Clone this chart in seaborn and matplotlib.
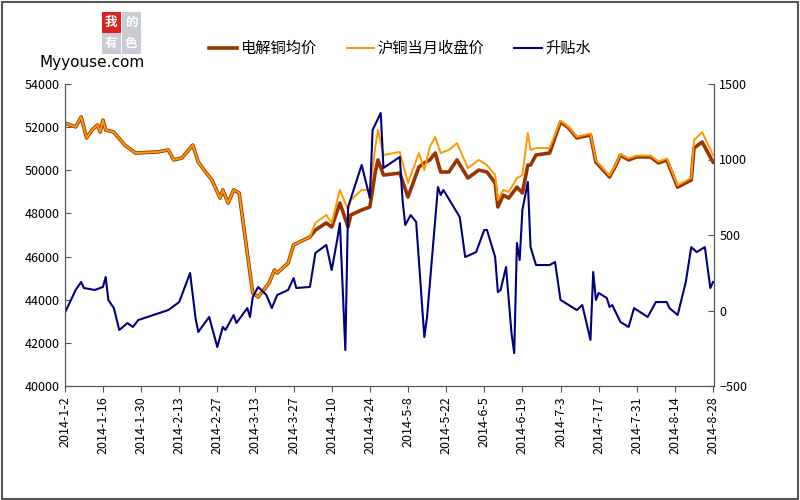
import pandas as pd
import numpy as np
import matplotlib
matplotlib.use('Agg')
import matplotlib.pyplot as plt
import matplotlib.dates as mdates
from matplotlib.patches import Rectangle
import seaborn as sns

plt.rcParams['font.family'] = ['Noto Sans CJK SC', 'DejaVu Sans']

start = pd.Timestamp('2014-01-02')

# 价格序列：日期偏移（天）、电解铜均价、沪铜当月收盘价
price_days = [0, 4, 6, 8, 10, 12, 13, 14, 15, 18, 22, 26, 34, 38, 40, 43, 47, 49, 52, 54,
              57, 58, 60, 62, 64, 69, 71, 75, 77, 78, 82, 84, 90, 92, 96, 98, 101, 104, 105, 109,
              112, 114, 115, 117, 123, 126, 130, 132, 134, 136, 138, 141, 144, 148, 152, 155, 158, 159, 161, 163,
              166, 168, 170, 171, 173, 178, 182, 185, 188, 193, 195, 200, 202, 204, 207, 210, 215, 218, 221, 225,
              230, 231, 234, 238]
copper_avg = [52190, 52010, 52470, 51500, 51870, 52100, 51770, 52330, 51870, 51770, 51170, 50800, 50850, 50940, 50480, 50570, 51170, 50380, 49870, 49550,
              48710, 49090, 48480, 49090, 48950, 44310, 44130, 44770, 45380, 45240, 45700, 46540, 46910, 47230, 47560, 47370, 48480, 47370, 47930, 48160,
              48300, 49920, 50480, 49780, 49870, 48760, 50150, 50340, 50480, 50800, 49920, 49920, 50480, 49640, 50010, 49920, 49410, 48300, 48850, 48710,
              49220, 48950, 50240, 50240, 50710, 50800, 52240, 51960, 51500, 51640, 50380, 49690, 50150, 50710, 50480, 50620, 50620, 50340, 50480, 49220,
              49550, 51030, 51310, 50380]
shfe_close = [52190, 52010, 52470, 51500, 51870, 52100, 51770, 52330, 51870, 51770, 51170, 50800, 50850, 50940, 50480, 50570, 51170, 50380, 49870, 49550,
              48710, 49090, 48480, 49090, 48950, 44310, 44130, 44770, 45380, 45240, 45700, 46540, 46910, 47560, 47930, 47560, 49090, 48160, 48620, 49090,
              49090, 51080, 51870, 50710, 50850, 49410, 50800, 50010, 51080, 51540, 50800, 50940, 51260, 50100, 50480, 50240, 49780, 48620, 49090, 49000,
              49640, 49780, 51730, 50940, 51030, 51030, 52300, 52000, 51550, 51700, 50450, 49750, 50200, 50750, 50550, 50680, 50680, 50400, 50550, 49300,
              49650, 51400, 51770, 50710]

# 升贴水
spread_days = [0, 4, 6, 7, 11, 14, 15, 16, 18, 20, 23, 25, 27, 38, 42, 46, 48, 49, 53, 56,
               58, 59, 62, 63, 67, 68, 69, 71, 74, 76, 78, 82, 84, 85, 90, 92, 96, 98, 100, 101,
               103, 104, 109, 112, 113, 116, 117, 123, 124, 125, 127, 129, 132, 133, 137, 138, 139, 145, 147, 151,
               154, 155, 158, 159, 160, 162, 164, 165, 166, 167, 168, 170, 171, 173, 178, 180, 182, 188, 190, 193,
               194, 195, 196, 199, 200, 201, 204, 207, 209, 214, 217, 221, 222, 225, 228, 230, 232, 235, 237, 238]
spread = [-17, 136, 189, 149, 136, 156, 222, 69, 16, -129, -83, -109, -63, 3, 56, 248, -50, -142, -43, -242,
          -109, -129, -30, -83, 16, -43, 89, 156, 103, 16, 103, 136, 215, 149, 156, 381, 434, 268, 467, 579,
          -262, 685, 964, 745, 1195, 1308, 944, 1017, 732, 566, 632, 586, -176, -43, 818, 765, 798, 619, 354, 387,
          533, 533, 354, 122, 136, 288, -149, -282, 447, 334, 665, 851, 420, 301, 301, 321, 70, 3, 36, -195,
          255, 70, 116, 83, 23, 36, -76, -109, 16, -43, 56, 56, 16, -30, 189, 420, 387, 420, 149, 189]

tick_labels = ['2014-1-2', '2014-1-16', '2014-1-30', '2014-2-13', '2014-2-27', '2014-3-13',
               '2014-3-27', '2014-4-10', '2014-4-24', '2014-5-8', '2014-5-22', '2014-6-5',
               '2014-6-19', '2014-7-3', '2014-7-17', '2014-7-31', '2014-8-14', '2014-8-28']

price = pd.DataFrame({'date': start + pd.to_timedelta(price_days, unit='D'),
                      'avg': copper_avg, 'shfe': shfe_close})
sp = pd.DataFrame({'date': start + pd.to_timedelta(spread_days, unit='D'), 'spread': spread})

fig = plt.figure(figsize=(8, 5), dpi=100)
fig.patches.append(Rectangle((0.003, 0.003), 0.994, 0.994, transform=fig.transFigure,
                             fill=False, edgecolor='#555555', linewidth=1.5))
ax = fig.add_axes([0.081, 0.228, 0.812, 0.604])
ax2 = ax.twinx()

sns.lineplot(data=price, x='date', y='avg', ax=ax, color='#993300', linewidth=2.6, label='电解铜均价', legend=False)
sns.lineplot(data=price, x='date', y='shfe', ax=ax, color='#FF9900', linewidth=1.4, label='沪铜当月收盘价', legend=False)
sns.lineplot(data=sp, x='date', y='spread', ax=ax2, color='#000080', linewidth=1.5, label='升贴水', legend=False)

ax.set_ylim(40000, 54000)
ax.set_yticks(range(40000, 54001, 2000))
ax2.set_ylim(-500, 1500)
ax2.set_yticks(range(-500, 1501, 500))
ticks = [start + pd.Timedelta(days=14 * i) for i in range(len(tick_labels))]
ax.set_xlim(ticks[0], ticks[-1] + pd.Timedelta(days=0.5))
ax.set_xticks(ticks)
ax.set_xticklabels(tick_labels, rotation=90, fontsize=9)
for a in (ax, ax2):
    a.set_xlabel('')
    a.set_ylabel('')
    a.tick_params(labelsize=9, length=4, direction='in', color='#555555')
    for s in a.spines.values():
        s.set_color('#555555')
ax.tick_params(axis='x', direction='out')
ax.spines['top'].set_visible(False)
ax2.spines['top'].set_visible(False)

h1, l1 = ax.get_legend_handles_labels()
h2, l2 = ax2.get_legend_handles_labels()
fig.legend(h1 + h2, l1 + l2, loc='center', bbox_to_anchor=(0.5, 0.903), ncol=3, frameon=False,
           fontsize=11, handlelength=1.8, handletextpad=0.2, columnspacing=2.0)

# 站点标志
logo_chars = [('我', '#dd2222'), ('的', '#c9ccd4'), ('有', '#c9ccd4'), ('色', '#c9ccd4')]
for i, (ch, bg) in enumerate(logo_chars):
    col, row = i % 2, i // 2
    x0, y0 = 0.127 + col * 0.025, 0.935 - row * 0.042
    fig.patches.append(Rectangle((x0, y0), 0.024, 0.04, transform=fig.transFigure,
                                 facecolor=bg, edgecolor='none'))
    fig.text(x0 + 0.012, y0 + 0.02, ch, fontsize=9, ha='center', va='center', color='white',
             fontweight='bold')
fig.text(0.115, 0.875, 'Myyouse.com', fontsize=11, ha='center', va='center', family='DejaVu Sans')

fig.savefig('out.png', dpi=100)
